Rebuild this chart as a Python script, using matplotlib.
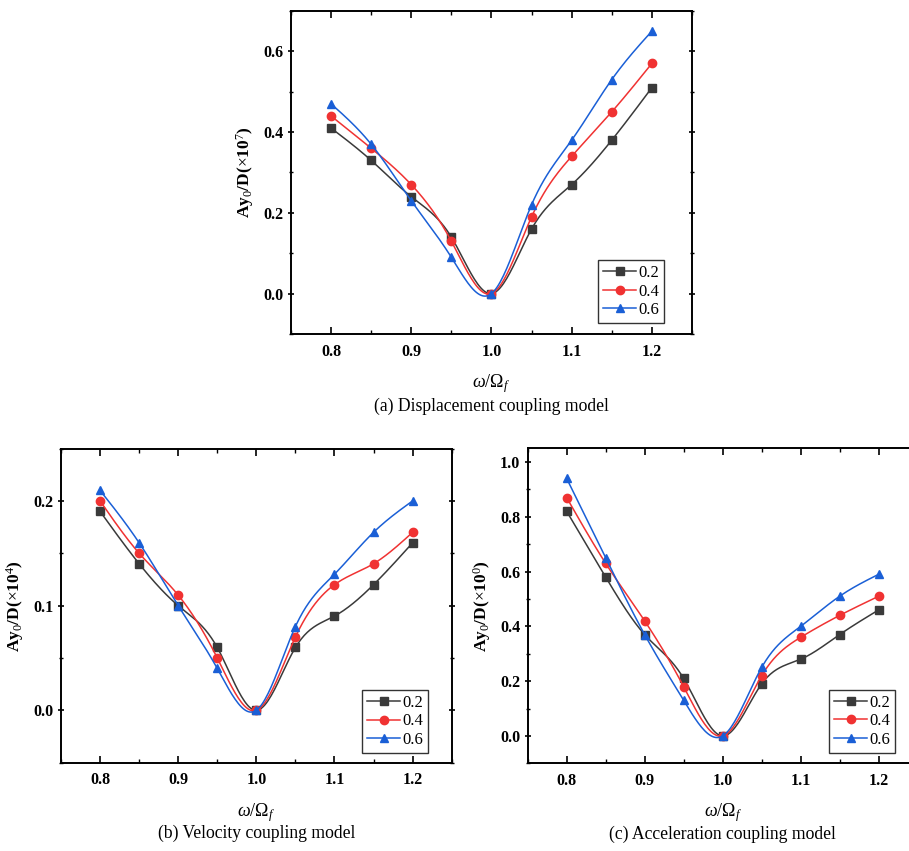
import numpy as np
import matplotlib
matplotlib.use("Agg")
import matplotlib.pyplot as plt
from matplotlib.ticker import MultipleLocator, FormatStrFormatter

plt.rcParams["font.family"] = ["Liberation Serif", "DejaVu Serif"]
plt.rcParams["mathtext.fontset"] = "custom"
plt.rcParams["mathtext.rm"] = "Liberation Serif"
plt.rcParams["mathtext.it"] = "Liberation Serif:italic"
plt.rcParams["mathtext.bf"] = "Liberation Serif:bold"

freq = [0.8, 0.85, 0.9, 0.95, 1.0, 1.05, 1.1, 1.15, 1.2]
ratios = ["0.2", "0.4", "0.6"]

disp_02 = [0.41, 0.33, 0.24, 0.14, 0.0, 0.16, 0.27, 0.38, 0.51]
disp_04 = [0.44, 0.36, 0.27, 0.13, 0.0, 0.19, 0.34, 0.45, 0.57]
disp_06 = [0.47, 0.37, 0.23, 0.09, 0.0, 0.22, 0.38, 0.53, 0.65]

vel_02 = [0.19, 0.14, 0.10, 0.06, 0.0, 0.06, 0.09, 0.12, 0.16]
vel_04 = [0.20, 0.15, 0.11, 0.05, 0.0, 0.07, 0.12, 0.14, 0.17]
vel_06 = [0.21, 0.16, 0.10, 0.04, 0.0, 0.08, 0.13, 0.17, 0.20]

acc_02 = [0.82, 0.58, 0.37, 0.21, 0.0, 0.19, 0.28, 0.37, 0.46]
acc_04 = [0.87, 0.63, 0.42, 0.18, 0.0, 0.22, 0.36, 0.44, 0.51]
acc_06 = [0.94, 0.65, 0.37, 0.13, 0.0, 0.25, 0.40, 0.51, 0.59]

COLORS = ["#3a3a3a", "#f03232", "#1a5fd6"]
MARKERS = ["s", "o", "^"]


def natural_spline(x, y, n=200):
    # plain natural cubic spline, only used to draw the smooth connecting line
    x = np.asarray(x, float)
    y = np.asarray(y, float)
    k = len(x)
    h = np.diff(x)
    A = np.zeros((k, k))
    b = np.zeros(k)
    A[0, 0] = A[-1, -1] = 1.0
    for i in range(1, k - 1):
        A[i, i - 1] = h[i - 1]
        A[i, i] = 2 * (h[i - 1] + h[i])
        A[i, i + 1] = h[i]
        b[i] = 6 * ((y[i + 1] - y[i]) / h[i] - (y[i] - y[i - 1]) / h[i - 1])
    M = np.linalg.solve(A, b)
    xs = np.linspace(x[0], x[-1], n)
    idx = np.clip(np.searchsorted(x, xs) - 1, 0, k - 2)
    x0, x1 = x[idx], x[idx + 1]
    hh = x1 - x0
    t0 = x1 - xs
    t1 = xs - x0
    ys = (M[idx] * t0 ** 3 + M[idx + 1] * t1 ** 3) / (6 * hh) \
        + (y[idx] / hh - M[idx] * hh / 6) * t0 \
        + (y[idx + 1] / hh - M[idx + 1] * hh / 6) * t1
    return xs, ys


def draw_panel(ax, series, ylim, ymajor, ylabel, caption, leg_anchor):
    for vals, lab, c, m in zip(series, ratios, COLORS, MARKERS):
        xs, ys = natural_spline(freq, vals)
        ax.plot(xs, ys, color=c, lw=1.1)
        ax.plot(freq, vals, linestyle="none", marker=m, color=c, markersize=6)
        ax.plot([], [], color=c, lw=1.1, marker=m, markersize=6, label=lab)

    ax.set_xlim(0.75, 1.25)
    ax.set_ylim(*ylim)
    ax.xaxis.set_major_locator(MultipleLocator(0.1))
    ax.xaxis.set_minor_locator(MultipleLocator(0.05))
    ax.yaxis.set_major_locator(MultipleLocator(ymajor))
    ax.yaxis.set_minor_locator(MultipleLocator(ymajor / 2))
    ax.xaxis.set_major_formatter(FormatStrFormatter("%.1f"))
    ax.yaxis.set_major_formatter(FormatStrFormatter("%.1f"))
    ax.set_xticks([0.8, 0.9, 1.0, 1.1, 1.2])

    ax.tick_params(which="both", top=True, right=True, direction="in")
    ax.tick_params(axis="y", which="both", left=True, direction="inout")
    ax.tick_params(which="major", length=5, width=1.2, labelsize=11.5)
    ax.tick_params(which="minor", length=3, width=1.0)
    ax.tick_params(axis="x", which="major", pad=7)
    ax.tick_params(axis="y", which="major", pad=3)
    for lbl in ax.get_xticklabels() + ax.get_yticklabels():
        lbl.set_fontweight("bold")
    for sp in ax.spines.values():
        sp.set_linewidth(1.4)

    ax.set_xlabel(r"$\omega/\Omega_f$", fontsize=13, labelpad=9)
    ax.set_ylabel(ylabel, fontsize=12.5, fontweight="bold", labelpad=5)

    leg = ax.legend(loc="lower right", bbox_to_anchor=leg_anchor, fontsize=12,
                    frameon=True, fancybox=False, edgecolor="black",
                    handlelength=2.0, handletextpad=0.1, borderpad=0.3,
                    labelspacing=0.15, borderaxespad=0.0)
    leg.get_frame().set_linewidth(1.0)

    ax.text(0.5, -0.225, caption, transform=ax.transAxes, ha="center",
            va="center", fontsize=12.7)


fig = plt.figure(figsize=(9.09, 8.51), dpi=100)

ax_a = fig.add_axes([0.3201, 0.6075, 0.4411, 0.3796])
ax_b = fig.add_axes([0.0671, 0.1038, 0.4298, 0.3691])
ax_c = fig.add_axes([0.5805, 0.1030, 0.4290, 0.3702])

draw_panel(ax_a, [disp_02, disp_04, disp_06], (-0.1, 0.7), 0.2,
           r"Ay$_0$/D($\times$10$^7$)", "(a) Displacement coupling model",
           (0.93, 0.034))
draw_panel(ax_b, [vel_02, vel_04, vel_06], (-0.05, 0.25), 0.1,
           r"Ay$_0$/D($\times$10$^4$)", "(b) Velocity coupling model",
           (0.939, 0.031))
draw_panel(ax_c, [acc_02, acc_04, acc_06], (-0.1, 1.05), 0.2,
           r"Ay$_0$/D($\times$10$^0$)", "(c) Acceleration coupling model",
           (0.942, 0.034))

fig.savefig("out.png", dpi=100)
